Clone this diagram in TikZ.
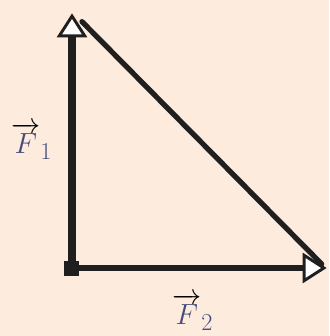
\documentclass[tikz,border=0pt]{standalone}
\usepackage{amsmath}
\usepackage{tikz}
\usetikzlibrary{arrows.meta, positioning, calc}
\usepackage{xcolor}
\definecolor{mybg}{RGB}{253, 236, 222}
\definecolor{mylabel}{RGB}{70, 75, 125}

\tikzset{
    force/.style={black!88, -{Triangle[length=0.72cm, width=0.9cm, fill=white, line width=2.5pt]}},
    forcelabel/.style={font=\fontsize{30}{30}\selectfont}
}

\begin{document}
\begin{tikzpicture}
    % --- Tlo ---
    \fill[mybg] (0, 0) rectangle (9.87, 10.08);
    \useasboundingbox (0, 0) rectangle (9.87, 10.08);

    % Wierzcholki trojkata
    \coordinate (origin) at (2.16, 2.04);
    \coordinate (top) at (2.16, 9.68);
    \coordinate (right) at (9.8, 2.04);

    % Przeciwprostokatna
    \draw[line width=4.5pt, black!88, line cap=round] ($(top)+(0.3,-0.25)$) -- ($(right)+(-0.15,0.12)$);

    % Wektor F1 (pionowy)
    \draw[force, line width=7pt] (origin) -- (top);

    % Wektor F2 (poziomy)
    \draw[force, line width=5.5pt] (origin) -- (right);

    % Punkt zaczepienia
    \fill[black!88] ($(origin)+(-0.25,-0.25)$) rectangle ($(origin)+(0.22,0.22)$);

    % Podpisy
    \node[forcelabel] (labelone) at (0.95, 5.85) {$\overrightarrow{\color{mylabel}F}_{\color{mylabel}1}$};
    \node[forcelabel] (labeltwo) at (5.78, 0.72) {$\overrightarrow{\color{mylabel}F}_{\color{mylabel}2}$};
\end{tikzpicture}
\end{document}
